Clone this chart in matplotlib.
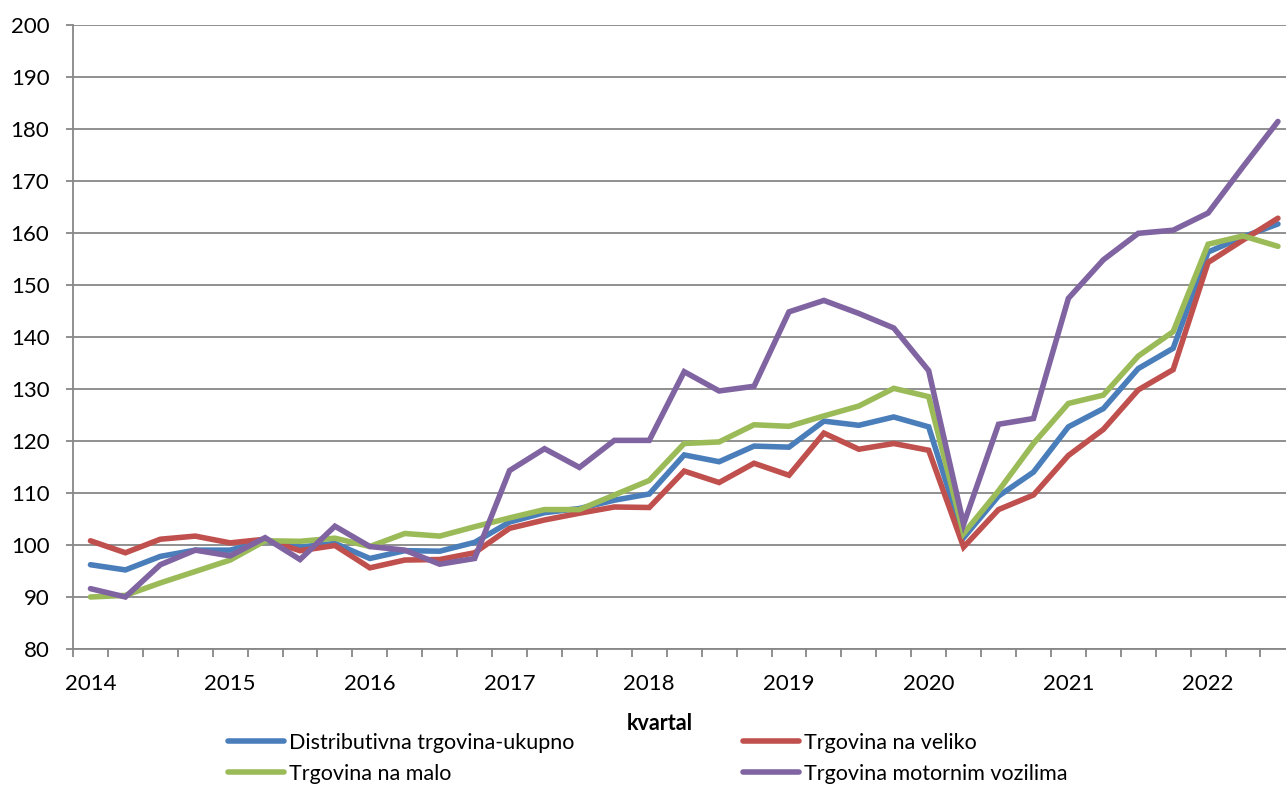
import numpy as np
import matplotlib
matplotlib.use("Agg")
import matplotlib.pyplot as plt
from matplotlib.ticker import FixedLocator, MultipleLocator

plt.rcParams['font.family'] = ['Lato', 'DejaVu Sans']

# kvartali 2014Q1 - 2022Q3
godine = ['2014', '2015', '2016', '2017', '2018', '2019', '2020', '2021', '2022']
n_kv = 35

# indeksi (ocitano sa grafika)
distributivna = [96.2, 95.2, 97.8, 99.0, 99.0, 100.8, 99.6, 100.3, 97.4, 98.9,
                 98.8, 100.5, 104.4, 106.2, 107.0, 108.6, 109.8, 117.3, 116.0, 119.0,
                 118.8, 123.8, 123.0, 124.6, 122.7, 101.4, 109.4, 114.0, 122.7, 126.2,
                 133.9, 137.8, 156.3, 159.2, 161.7]
veliko = [100.8, 98.5, 101.1, 101.7, 100.4, 101.1, 98.9, 99.9, 95.6, 97.1,
          97.2, 98.5, 103.2, 104.8, 106.1, 107.3, 107.2, 114.2, 112.0, 115.7,
          113.4, 121.5, 118.4, 119.5, 118.2, 99.6, 106.8, 109.6, 117.2, 122.2,
          129.8, 133.7, 154.3, 158.6, 162.8]
malo = [90.0, 90.3, 92.7, 94.9, 97.1, 100.8, 100.7, 101.3, 99.7, 102.2,
        101.7, 103.5, 105.2, 106.8, 106.8, 109.6, 112.4, 119.5, 119.8, 123.1,
        122.8, 124.8, 126.7, 130.1, 128.5, 102.2, 110.4, 119.5, 127.2, 128.8,
        136.3, 141.0, 157.8, 159.4, 157.4]
motorna = [91.6, 90.0, 96.2, 99.0, 97.9, 101.4, 97.2, 103.6, 99.7, 99.0,
           96.3, 97.4, 114.3, 118.5, 114.9, 120.1, 120.1, 133.3, 129.6, 130.5,
           144.8, 147.0, 144.5, 141.7, 133.5, 104.0, 123.2, 124.3, 147.4, 154.8,
           159.9, 160.5, 163.8, 172.7, 181.4]

serije = [
    ('Distributivna trgovina-ukupno', distributivna, '#4A7EBB'),
    ('Trgovina na malo', malo, '#9BBB59'),
    ('Trgovina na veliko', veliko, '#C0504D'),
    ('Trgovina motornim vozilima', motorna, '#8064A2'),
]
# redoslijed crtanja
redoslijed = [0, 2, 1, 3]

fig = plt.figure(figsize=(12.86, 7.85), dpi=100)
W, H = 1286.0, 785.0
x0, x1 = 73.0, 1295.4
y0, y1 = 649.0, 24.7
ax = fig.add_axes([x0 / W, 1 - y0 / H, (x1 - x0) / W, (y0 - y1) / H])

x = np.arange(n_kv)
linije = {}
for k in redoslijed:
    naziv, vrijednosti, boja = serije[k]
    l, = ax.plot(x, vrijednosti, color=boja, lw=4.0, solid_capstyle='round',
                 solid_joinstyle='miter', label=naziv, zorder=3)
    linije[k] = l

ax.set_xlim(-0.5, n_kv - 0.5)
ax.set_ylim(80, 200)
ax.yaxis.set_major_locator(MultipleLocator(10))
ax.xaxis.set_major_locator(FixedLocator(np.arange(0, n_kv, 4)))
ax.set_xticklabels(godine)
ax.xaxis.set_minor_locator(FixedLocator(np.arange(-0.5, n_kv, 1)))

siva = '#878787'
ax.grid(axis='y', color=siva, lw=1.3, zorder=1)
ax.set_axisbelow(True)
for s in ['top', 'right']:
    ax.spines[s].set_visible(False)
for s in ['left', 'bottom']:
    ax.spines[s].set_color(siva)
    ax.spines[s].set_linewidth(1.3)

ax.tick_params(axis='y', which='major', length=5, width=1.3, color=siva,
               labelsize=16, pad=12, labelcolor='black')
ax.tick_params(axis='x', which='major', length=0, labelsize=16, pad=18,
               labelcolor='black')
ax.tick_params(axis='x', which='minor', length=6, width=1.3, color=siva)

fig.text(660 / W, 1 - 724 / H, 'kvartal', ha='center', va='center',
         fontsize=15.5, fontweight='bold')

hs = [linije[k] for k in range(4)]
fig.legend(hs, [serije[k][0] for k in range(4)], ncol=2, loc='upper left',
           bbox_to_anchor=(228 / W, 1 - 733 / H), frameon=False, fontsize=15.5,
           handlelength=2.6, handletextpad=0.25, columnspacing=7.8,
           labelspacing=0.5, borderpad=0, borderaxespad=0)

fig.savefig('out.png', dpi=100)
